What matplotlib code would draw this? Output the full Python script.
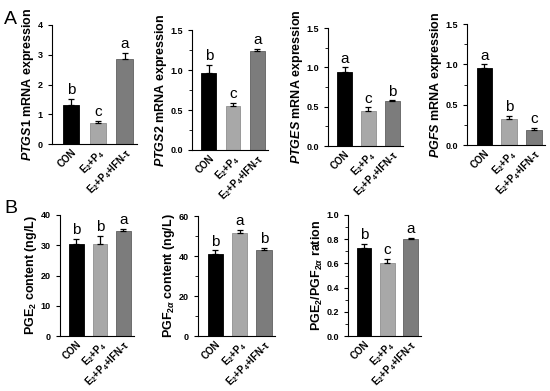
import matplotlib
matplotlib.use('Agg')
import matplotlib.pyplot as plt
from matplotlib.ticker import MultipleLocator

plt.rcParams['font.family'] = ['Liberation Sans', 'DejaVu Sans']
plt.rcParams['mathtext.fontset'] = 'custom'
plt.rcParams['mathtext.rm'] = 'Liberation Sans:bold'
plt.rcParams['mathtext.it'] = 'Liberation Sans:italic:bold'
plt.rcParams['mathtext.bf'] = 'Liberation Sans:bold'

## data
groups = ['CON', 'E$_2$+P$_4$', 'E$_2$+P$_4$+IFN-τ']
colors = ['#000000', '#a8a8a8', '#7c7c7c']

ptgs1 = [1.30, 0.70, 2.85]
ptgs1_err = [0.22, 0.08, 0.22]
ptgs1_sig = ['b', 'c', 'a']

ptgs2 = [0.96, 0.55, 1.24]
ptgs2_err = [0.10, 0.04, 0.02]
ptgs2_sig = ['b', 'c', 'a']

ptges = [0.94, 0.44, 0.57]
ptges_err = [0.06, 0.05, 0.01]
ptges_sig = ['a', 'c', 'b']

pgfs = [0.96, 0.32, 0.19]
pgfs_err = [0.04, 0.04, 0.02]
pgfs_sig = ['a', 'b', 'c']

pge2 = [30.5, 30.5, 34.7]
pge2_err = [1.7, 2.5, 0.8]
pge2_sig = ['b', 'b', 'a']

pgf2a = [41.0, 51.5, 43.0]
pgf2a_err = [1.8, 1.5, 1.2]
pgf2a_sig = ['b', 'a', 'b']

ratio = [0.73, 0.60, 0.80]
ratio_err = [0.03, 0.04, 0.01]
ratio_sig = ['b', 'c', 'a']

W, H = 550, 391
fig = plt.figure(figsize=(W / 100, H / 100), dpi=100, facecolor='white')

def panel(px, vals, errs, sig, ylabel, ymax, major, minor):
    l, r, t, b = px
    ax = fig.add_axes([l / W, 1 - b / H, (r - l) / W, (b - t) / H])
    x = range(len(vals))
    ax.bar(x, vals, width=0.62, color=colors, edgecolor=['#000000', '#8f8f8f', '#606060'], linewidth=0.6)
    ax.errorbar(x, vals, yerr=[[0] * 3, errs], fmt='none', ecolor='black', elinewidth=0.9, capsize=2.5, capthick=0.9)
    for i in x:
        ax.text(i, vals[i] + errs[i] + ymax * 0.015, sig[i], ha='center', va='bottom', fontsize=11)
    ax.set_ylim(0, ymax)
    ax.set_xlim(-0.7, 2.45)
    ax.yaxis.set_major_locator(MultipleLocator(major))
    if minor:
        ax.yaxis.set_minor_locator(MultipleLocator(minor))
    ax.spines['top'].set_visible(False)
    ax.spines['right'].set_visible(False)
    ax.spines['left'].set_linewidth(0.8)
    ax.spines['bottom'].set_linewidth(0.8)
    ax.tick_params(axis='y', labelsize=6.5, width=0.8, length=3)
    ax.tick_params(axis='y', which='minor', length=2, width=0.6)
    ax.tick_params(axis='x', length=0, pad=2)
    for lab in ax.get_yticklabels():
        lab.set_fontweight('bold')
    ax.set_xticks(list(x))
    ax.set_xticklabels(groups, rotation=45, ha='right', rotation_mode='anchor', fontsize=7, fontweight='bold')
    ax.set_ylabel(ylabel, fontsize=9, fontweight='bold', labelpad=1)
    return ax

panel((52, 137, 25, 144), ptgs1, ptgs1_err, ptgs1_sig, r'$\mathit{PTGS1}$ mRNA expression', 4, 1, None)
panel((192, 268, 30, 150), ptgs2, ptgs2_err, ptgs2_sig, r'$\mathit{PTGS2}$ mRNA expression', 1.5, 0.5, 0.25)
panel((328, 403, 28, 146), ptges, ptges_err, ptges_sig, r'$\mathit{PTGES}$ mRNA expression', 1.5, 0.5, 0.25)
panel((467, 545, 24, 145), pgfs, pgfs_err, pgfs_sig, r'$\mathit{PGFS}$ mRNA expression', 1.5, 0.5, 0.25)

panel((60, 134, 215, 336), pge2, pge2_err, pge2_sig, r'PGE$_2$ content (ng/L)', 40, 10, None)
panel((198, 275, 216, 336), pgf2a, pgf2a_err, pgf2a_sig, r'PGF$_{2\alpha}$ content (ng/L)', 60, 20, 10)
panel((348, 421, 215, 336), ratio, ratio_err, ratio_sig, r'PGE$_2$/PGF$_{2\alpha}$ ration', 1.0, 0.2, 0.1)

fig.text(4 / W, 1 - 20 / H, 'A', fontsize=14, va='center', ha='left')
fig.text(4 / W, 1 - 208 / H, 'B', fontsize=14, va='center', ha='left')

plt.savefig('out.png', dpi=100)
